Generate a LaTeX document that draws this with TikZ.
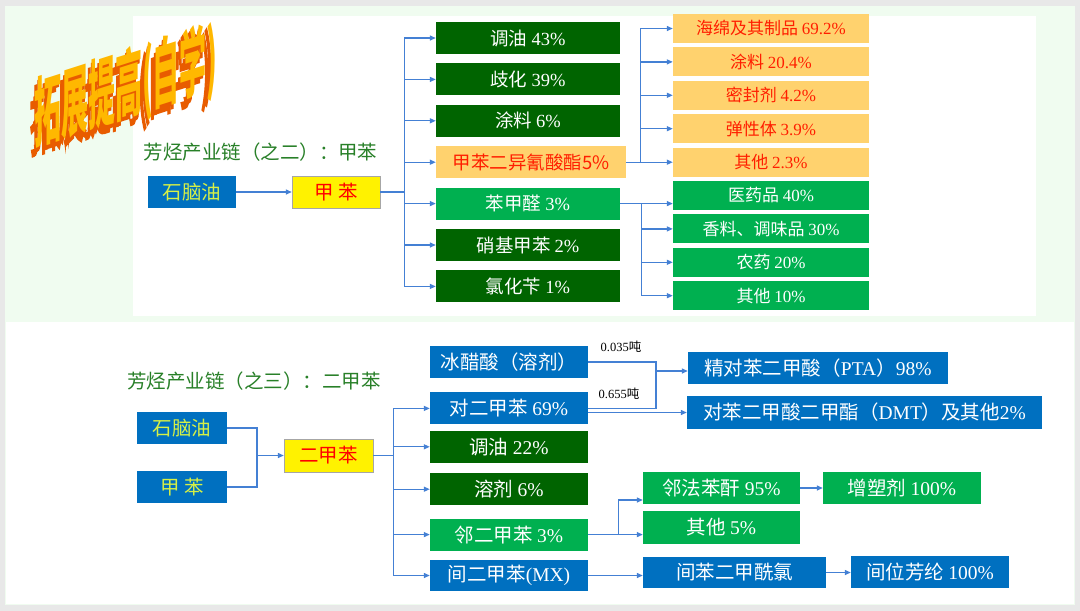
\documentclass[tikz,border=0pt]{standalone}
\usepackage{fontspec}
\setmainfont{Noto Sans CJK SC}
\newfontfamily\lat{Liberation Serif}
\newfontfamily\artdepth[FakeBold=4]{Noto Sans CJK SC}
\usetikzlibrary{positioning, arrows.meta}

\definecolor{deepgreen}{RGB}{0,100,0}
\definecolor{leafgreen}{RGB}{0,176,80}
\definecolor{boxblue}{RGB}{0,112,192}
\definecolor{boxorange}{RGB}{255,210,110}
\definecolor{linkblue}{RGB}{68,128,212}
\definecolor{titlegreen}{RGB}{40,128,40}
\definecolor{limetext}{RGB}{214,240,70}
\definecolor{orangetext}{RGB}{255,30,0}
\definecolor{artface}{RGB}{255,184,0}
\definecolor{artshade}{RGB}{232,92,0}
\definecolor{slidemint}{RGB}{240,252,240}
\definecolor{framegrey}{RGB}{232,232,232}

\newcommand{\pct}[1]{{\lat #1\%}}

\tikzset{
  box/.style={inner sep=0pt, minimum height=32pt, text=white},
  midbox/.style={box, minimum width=184pt, fill=deepgreen, font=\fontsize{18.5}{20}\selectfont},
  sidebox/.style={box, minimum width=196pt, minimum height=29pt, font=\fontsize{17}{19}\selectfont},
  lowbox/.style={box, fill=boxblue, font=\fontsize{19.5}{21}\selectfont},
  srcbox/.style={lowbox, text=limetext},
  mainbox/.style={box, fill=yellow, draw=gray!70, text=red, font=\fontsize{19.5}{21}\selectfont},
  chaintitle/.style={inner sep=0pt, text=titlegreen, font=\fontsize{19.5}{21}\selectfont},
  tonlabel/.style={inner sep=0pt, font=\fontsize{12.5}{14}\selectfont},
  wordart/.style={inner sep=0pt, font=\bfseries\fontsize{27}{27}\selectfont, cm={1,0.32,0,2.8,(0,0)}},
  artback/.style={wordart, text=artshade, font=\artdepth\fontsize{27}{27}\selectfont},
  link/.style={draw=linkblue, line width=1.3pt},
  flow/.style={link, -{Triangle[length=6pt,width=5pt]}}
}

\begin{document}
\begin{tikzpicture}[x=1pt, y=-1pt]
  \useasboundingbox (0,0) rectangle (1080,611);
  % slide background
  \fill[framegrey] (0,0) rectangle (1080,611);
  \fill[slidemint] (5,6) rectangle (1075,605);
  \fill[white] (133,16) rectangle (1036,316);
  \fill[white] (6,322) rectangle (1074,604);

  % title with depth
  \node[artback] (artlow) at (120,98) {拓展提高(自学)};
  \node[artback] (artmid) at (123,93) {拓展提高(自学)};
  \node[wordart, text=artface] (art) at (126,88) {拓展提高(自学)};

  % chain 2: toluene
  \node[chaintitle] (h1) at (260.5,152) {芳烃产业链（之二）：甲苯};
  \node[srcbox, minimum width=88pt] (sn) at (192,192) {石脑油};
  \node[mainbox, minimum width=88pt] (jb) at (336,192) {甲 苯};

  \node[midbox] (m1) at (528,38) {调油 \pct{43}};
  \node[midbox] (m2) [below=9pt of m1] {歧化 \pct{39}};
  \node[midbox] (m3) [below=9pt of m2] {涂料 \pct{6}};
  \node[midbox, fill=boxorange, text=orangetext, minimum width=190pt] (m4)
       [below=9pt of m3.south west, anchor=north west] {甲苯二异氰酸酯5\%};
  \node[midbox, fill=leafgreen] (m5) [below=9pt of m4.south west, anchor=north west] {苯甲醛 \pct{3}};
  \node[midbox] (m6) [below=9pt of m5] {硝基甲苯 \pct{2}};
  \node[midbox] (m7) [below=9pt of m6] {氯化苄 \pct{1}};

  \node[sidebox, fill=boxorange, text=orangetext] (r1) at (771,28.5) {海绵及其制品 \pct{69.2}};
  \node[sidebox, fill=boxorange, text=orangetext] (r2) [below=4pt of r1] {涂料 \pct{20.4}};
  \node[sidebox, fill=boxorange, text=orangetext] (r3) [below=4pt of r2] {密封剂 \pct{4.2}};
  \node[sidebox, fill=boxorange, text=orangetext] (r4) [below=4pt of r3] {弹性体 \pct{3.9}};
  \node[sidebox, fill=boxorange, text=orangetext] (r5) [below=4pt of r4] {其他 \pct{2.3}};
  \node[sidebox, fill=leafgreen] (r6) [below=4pt of r5] {医药品 \pct{40}};
  \node[sidebox, fill=leafgreen] (r7) [below=4pt of r6] {香料、调味品 \pct{30}};
  \node[sidebox, fill=leafgreen] (r8) [below=4pt of r7] {农药 \pct{20}};
  \node[sidebox, fill=leafgreen] (r9) [below=4pt of r8] {其他 \pct{10}};

  \draw[flow] (sn) -- (jb);
  \draw[link] (jb.east) -- ++(24,0) coordinate (t1);
  \foreach \n in {m1,m2,m3,m4,m5,m6,m7}
    \draw[flow] (t1) |- (\n.west);
  \draw[flow] (m4.east) -- (m4.east -| r5.west);
  \path (m4.east) -- ++(14,0) coordinate (t2);
  \foreach \n in {r1,r2,r3,r4}
    \draw[flow] (t2) |- (\n.west);
  \draw[flow] (m5.east) -- (m5.east -| r6.west);
  \path (m5.east) -- ++(21,0) coordinate (t3);
  \foreach \n in {r7,r8,r9}
    \draw[flow] (t3) |- (\n.west);

  % chain 3: xylene
  \node[chaintitle] (h2) at (254,381) {芳烃产业链（之三）：二甲苯};
  \node[srcbox, minimum width=90pt] (bn) at (182,428) {石脑油};
  \node[srcbox, minimum width=90pt] (bt) at (182,487) {甲 苯};
  \node[mainbox, minimum width=89pt, minimum height=33pt] (bx) at (328.5,455.5) {二甲苯};

  \node[lowbox, minimum width=158pt] (c1) at (509,362) {冰醋酸（溶剂）};
  \node[lowbox, minimum width=158pt] (c2) [below=14pt of c1] {对二甲苯 \pct{69}};
  \node[lowbox, minimum width=158pt, fill=deepgreen] (c3) [below=6pt of c2] {调油 \pct{22}};
  \node[lowbox, minimum width=158pt, fill=deepgreen] (c4) [below=10pt of c3] {溶剂 \pct{6}};
  \node[lowbox, minimum width=158pt, fill=leafgreen] (c5) [below=13pt of c4] {邻二甲苯 \pct{3}};
  \node[lowbox, minimum width=158pt, minimum height=31pt] (c6) [below=9pt of c5] {间二甲苯{\lat (MX)}};

  \node[lowbox, minimum width=260pt] (p1) at (818,368) {精对苯二甲酸（{\lat PTA}）\pct{98}};
  \node[lowbox, minimum width=355pt, minimum height=33pt] (p2) at (864.5,412.5) {对苯二甲酸二甲酯（{\lat DMT}）及其他\pct{2}};
  \node[lowbox, minimum width=157pt, fill=leafgreen] (q1) at (721.5,488) {邻法苯酐 \pct{95}};
  \node[lowbox, minimum width=157pt, minimum height=33pt, fill=leafgreen] (q2) at (721.5,527.5) {其他 \pct{5}};
  \node[lowbox, minimum width=158pt, fill=leafgreen] (q3) at (902,488) {增塑剂 \pct{100}};
  \node[lowbox, minimum width=183pt, minimum height=31pt] (s1) at (734.5,572.5) {间苯二甲酰氯};
  \node[lowbox, minimum width=158pt] (s2) at (930,572) {间位芳纶 \pct{100}};

  \node[tonlabel] (l1) at (621,347) {{\lat 0.035}吨};
  \node[tonlabel] (l2) at (619,394) {{\lat 0.655}吨};

  \coordinate (j1) at (257,455.5);
  \draw[link] (bn.east) -| (j1) |- (bt.east);
  \draw[flow] (j1) -- (bx.west);
  \draw[link] (bx.east) -- ++(20,0) coordinate (t4);
  \foreach \n in {c2,c3,c4,c5,c6}
    \draw[flow] (t4) |- (\n.west);

  \coordinate (j2) at (656,371);
  \draw[link] (c1.east) -| (j2);
  \draw[link] (c2.east) -| (j2);
  \draw[flow] (j2) -- (j2 -| p1.west);
  \draw[flow] (c2.east |- p2.west) -- (p2.west);

  \draw[flow] (c5.east) -- (c5.east -| q2.west);
  \path (c5.east) -- ++(30,0) coordinate (t5);
  \draw[flow] (t5) |- ([yshift=-12pt]q1.west);
  \draw[flow] (q1.east) -- (q1.east -| q3.west);
  \draw[flow] (c6.east) -- (c6.east -| s1.west);
  \draw[flow] (s1.east) -- (s1.east -| s2.west);
\end{tikzpicture}
\end{document}
